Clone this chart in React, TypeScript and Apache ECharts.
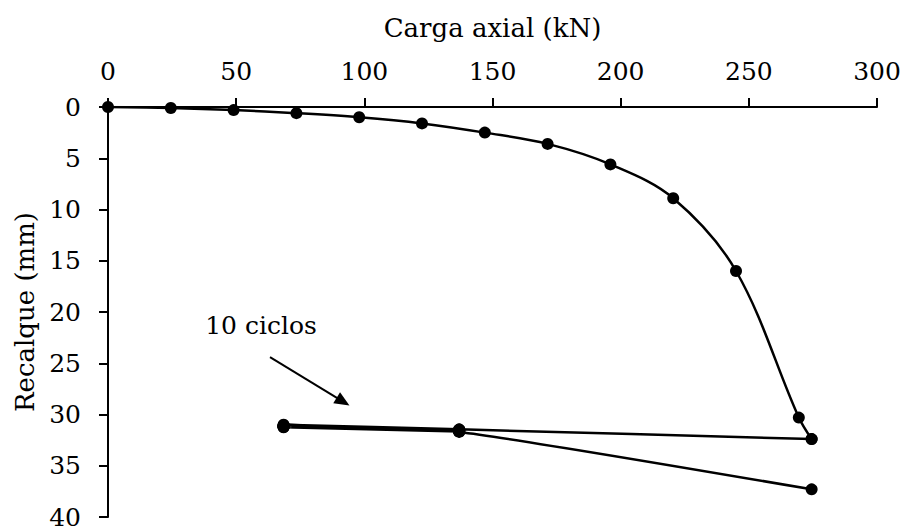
import React, { useEffect, useRef } from "react";
import * as echarts from "echarts";

// Loading curve (kN, mm)
const loadKN = [0, 24.5, 49, 73.5, 98, 122.5, 147, 171.5, 196, 220.5, 245, 269.5, 274.5];
const loadMM = [0, 0.1, 0.3, 0.6, 1.0, 1.6, 2.5, 3.6, 5.6, 8.9, 16.0, 30.3, 32.4];

// Unloading, 10 cycles, final reload
const cycKN = [274.5, 137, 68.5, 137, 68.5, 137, 68.5, 137, 68.5, 137, 68.5, 137, 68.5, 137, 68.5, 137, 68.5, 137, 68.5, 137, 68.5, 137, 274.5];
const cycMM = [32.4, 31.45, 31.0, 31.5, 31.05, 31.5, 31.1, 31.55, 31.1, 31.55, 31.15, 31.6, 31.15, 31.6, 31.2, 31.6, 31.2, 31.65, 31.2, 31.65, 31.25, 31.7, 37.3];

const xTicks = { min: 0, max: 300, interval: 50 };
const yTicks = { min: 0, max: 40, interval: 5 };

const annotationText = "10 ciclos";
const arrowFrom = [63.2, 24.4];
const arrowTo = [91.7, 28.75];

const FONT = "DejaVu Serif";
const FS = 25;
const NFS = 26;

export default function App() {
  const ref = useRef<HTMLDivElement>(null);
  useEffect(() => {
    document.body.style.margin = "0";
    const chart = echarts.init(ref.current!, null, { renderer: "svg" });
    const pts1 = loadKN.map((x, i) => [x, loadMM[i]]);
    const pts2 = cycKN.map((x, i) => [x, cycMM[i]]);
    chart.setOption({
      animation: false,
      backgroundColor: "#ffffff",
      textStyle: { fontFamily: FONT },
      grid: { left: 108, top: 107, width: 769, height: 410, containLabel: false },
      xAxis: {
        type: "value",
        position: "top",
        min: xTicks.min,
        max: xTicks.max,
        interval: xTicks.interval,
        name: "Carga axial (kN)",
        nameLocation: "middle",
        nameGap: 66,
        nameTextStyle: { fontFamily: FONT, fontSize: NFS, color: "#000" },
        axisLine: { show: true, onZero: false, lineStyle: { color: "#000", width: 2 } },
        axisTick: { show: true, length: 9, lineStyle: { color: "#000", width: 2 } },
        axisLabel: { fontFamily: FONT, fontSize: FS, color: "#000", margin: 23 },
        splitLine: { show: false },
      },
      yAxis: {
        type: "value",
        inverse: true,
        min: yTicks.min,
        max: yTicks.max,
        interval: yTicks.interval,
        name: "Recalque (mm)",
        nameLocation: "middle",
        nameGap: 68,
        nameRotate: 90,
        nameTextStyle: { fontFamily: FONT, fontSize: NFS, color: "#000" },
        axisLine: { show: true, onZero: false, lineStyle: { color: "#000", width: 2 } },
        axisTick: { show: true, length: 9, lineStyle: { color: "#000", width: 2 } },
        axisLabel: { fontFamily: FONT, fontSize: FS, lineHeight: 20, color: "#000", margin: 27 },
        splitLine: { show: false },
      },
      series: [
        {
          type: "line",
          data: pts1,
          smooth: 0.35,
          symbol: "circle",
          symbolSize: 12,
          itemStyle: { color: "#000" },
          lineStyle: { color: "#000", width: 2.5 },
          z: 3,
        },
        {
          type: "line",
          data: pts2,
          smooth: 0.15,
          symbol: "circle",
          symbolSize: 12,
          itemStyle: { color: "#000" },
          lineStyle: { color: "#000", width: 2.5 },
          z: 3,
          markLine: {
            silent: true,
            symbol: ["none", "triangle"],
            symbolSize: [13, 15],
            label: { show: false },
            lineStyle: { color: "#000", width: 2, type: "solid" },
            data: [[{ coord: arrowFrom }, { coord: arrowTo }]],
          },
        },
      ],
      graphic: [
        {
          type: "text",
          x: 261,
          y: 325,
          style: {
            text: annotationText,
            fontFamily: FONT,
            fontSize: FS,
            fill: "#000",
            align: "center",
            verticalAlign: "middle",
          },
        },
      ],
    });
    return () => chart.dispose();
  }, []);
  return <div ref={ref} style={{ width: 904, height: 532 }} />;
}
